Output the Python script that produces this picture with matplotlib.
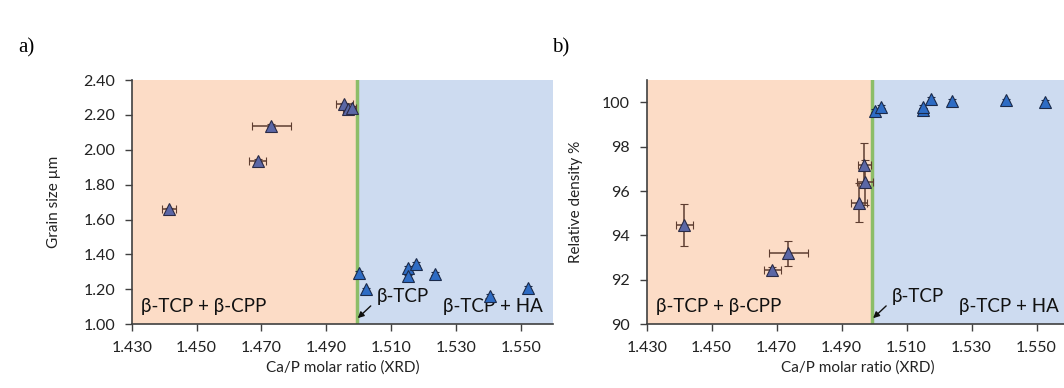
import matplotlib.pyplot as plt
import numpy as np

plt.rcParams['font.family'] = ['Lato', 'DejaVu Sans']

# a) grain size
gs_tcp_cpp_x = [1.4415, 1.4688, 1.4731, 1.4956, 1.4966, 1.4978]
gs_tcp_cpp_y = [1.659, 1.938, 2.138, 2.261, 2.236, 2.240]
gs_tcp_cpp_xerr = [0.0022, 0.0026, 0.0059, 0.0027, 0.0015, 0.0015]
gs_tcp_cpp_yerr = [0.01, 0.01, 0.01, 0.01, 0.01, 0.01]

gs_tcp_ha_x = [1.5000, 1.5021, 1.5151, 1.5151, 1.5178, 1.5235, 1.5406, 1.5522]
gs_tcp_ha_y = [1.293, 1.200, 1.324, 1.274, 1.347, 1.290, 1.163, 1.208]
gs_tcp_ha_yerr = [0.01] * 8

# b) relative density
rd_tcp_cpp_x = [1.4416, 1.4687, 1.4736, 1.4954, 1.4970, 1.4972]
rd_tcp_cpp_y = [94.47, 92.44, 93.19, 95.47, 97.17, 96.39]
rd_tcp_cpp_xerr = [0.0025, 0.0026, 0.0060, 0.0025, 0.0020, 0.0025]
rd_tcp_cpp_yerr = [0.95, 0.12, 0.58, 0.88, 1.00, 1.00]

rd_tcp_ha_x = [1.5002, 1.5021, 1.5150, 1.5150, 1.5175, 1.5240, 1.5405, 1.5525]
rd_tcp_ha_y = [99.62, 99.80, 99.65, 99.80, 100.15, 100.06, 100.08, 100.00]
rd_tcp_ha_yerr = [0.08] * 8

x_ticks = [1.430, 1.450, 1.470, 1.490, 1.510, 1.530, 1.550]
boundary = 1.4995
x_lo, x_hi = 1.43, 1.56

orange_bg = '#fcdcc6'
blue_bg = '#cddbf0'
green = '#8cbd68'
err_col = '#5e3d30'
cpp_marker = '#5b67a6'
ha_marker = '#2e6cc4'

fig = plt.figure(figsize=(10.64, 3.88), dpi=100)
ax1 = fig.add_axes([0.1238, 0.1642, 0.3962, 0.6296])
ax2 = fig.add_axes([0.6078, 0.1642, 0.3969, 0.6296])


def panel(ax, ylim, yticks, yfmt, ylabel, ylabelpad,
          cx, cy, cxerr, cyerr, hx, hy, hyerr):
    ax.axvspan(x_lo, boundary, color=orange_bg, zorder=0, lw=0)
    ax.axvspan(boundary, x_hi, color=blue_bg, zorder=0, lw=0)
    ax.axvline(boundary, color=green, lw=2.5, zorder=1)
    ax.errorbar(cx, cy, xerr=cxerr, yerr=cyerr, fmt='^', ms=8,
                mfc=cpp_marker, mec='#2b2b45', mew=0.8,
                ecolor=err_col, elinewidth=1.1, capsize=3, zorder=3)
    ax.errorbar(hx, hy, yerr=hyerr, fmt='^', ms=8,
                mfc=ha_marker, mec='#1b2a4a', mew=0.8,
                ecolor='#1b2a4a', elinewidth=1, capsize=3, zorder=3)
    ax.set_xlim(x_lo, x_hi)
    ax.set_ylim(*ylim)
    ax.set_xticks(x_ticks)
    ax.set_xticklabels(['%.3f' % t for t in x_ticks])
    ax.set_yticks(yticks)
    ax.set_yticklabels([yfmt % t for t in yticks])
    for s in ['top', 'right']:
        ax.spines[s].set_visible(False)
    for s in ['left', 'bottom']:
        ax.spines[s].set_color('#404040')
        ax.spines[s].set_linewidth(1.2)
    ax.tick_params(direction='out', length=5, width=1, color='#404040',
                   labelsize=11.5, labelcolor='#222222', pad=7)
    ax.set_xlabel('Ca/P molar ratio (XRD)', fontsize=11, color='#222222', labelpad=4)
    ax.set_ylabel(ylabel, fontsize=11, color='#222222', labelpad=ylabelpad)

    ax.text(0.022, 0.072, 'β-TCP + β-CPP', transform=ax.transAxes,
            fontsize=13.5, color='#111111', va='center')
    ax.text(0.976, 0.072, 'β-TCP + HA', transform=ax.transAxes,
            fontsize=13.5, color='#111111', ha='right', va='center')
    ax.annotate('β-TCP', xy=(boundary + 0.0002, 0.025), xycoords=('data', 'axes fraction'),
                xytext=(boundary + 0.0060, 0.115), textcoords=('data', 'axes fraction'),
                fontsize=13.5, color='#111111', va='center',
                arrowprops=dict(arrowstyle='-|>', color='#111111', lw=1,
                                mutation_scale=9, shrinkA=3, shrinkB=0,
                                relpos=(0, 0.25)))


panel(ax1, (1.0, 2.4), np.arange(1.0, 2.41, 0.2), '%.2f', 'Grain size µm', 16,
      gs_tcp_cpp_x, gs_tcp_cpp_y, gs_tcp_cpp_xerr, gs_tcp_cpp_yerr,
      gs_tcp_ha_x, gs_tcp_ha_y, gs_tcp_ha_yerr)
panel(ax2, (90, 101), [90, 92, 94, 96, 98, 100], '%d', 'Relative density %', 14,
      rd_tcp_cpp_x, rd_tcp_cpp_y, rd_tcp_cpp_xerr, rd_tcp_cpp_yerr,
      rd_tcp_ha_x, rd_tcp_ha_y, rd_tcp_ha_yerr)

fig.text(18 / 1064, 1 - 52 / 388, 'a)', family='Liberation Serif', fontsize=15)
fig.text(552 / 1064, 1 - 52 / 388, 'b)', family='Liberation Serif', fontsize=15)

fig.savefig('out.png', dpi=100)
